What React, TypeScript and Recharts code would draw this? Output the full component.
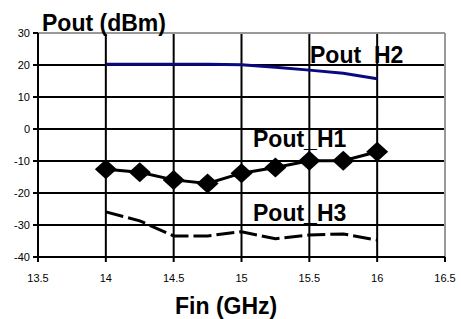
import { LineChart, Line, XAxis, YAxis, CartesianGrid, ReferenceLine } from "recharts";

const freq = [14, 14.25, 14.5, 14.75, 15, 15.25, 15.5, 15.75, 16];
const poutH1 = [-12.6, -13.5, -15.9, -17, -13.8, -12, -9.9, -9.9, -7.1];
const poutH2 = [20.2, 20.2, 20.2, 20.2, 20.1, 19.3, 18.4, 17.4, 15.7];
const poutH3 = [-25.9, -28.7, -33.4, -33.4, -32.1, -34.3, -33.1, -32.8, -34.7];
const xTicks = [13.5, 14, 14.5, 15, 15.5, 16, 16.5];
const yTicks = [-40, -30, -20, -10, 0, 10, 20, 30];

const data = freq.map((f, i) => ({ f, h1: poutH1[i], h2: poutH2[i], h3: poutH3[i] }));

const Diamond = (props: any) => {
  const { cx, cy } = props;
  if (cx == null || cy == null) return null;
  return <polygon points={`${cx},${cy - 10} ${cx + 11},${cy} ${cx},${cy + 10} ${cx - 11},${cy}`} fill="#000" />;
};

const tickStyle = { fontSize: 11, fill: "#000", fontFamily: "Liberation Sans, Arial, sans-serif" };
const labelFont = { fontFamily: "Liberation Sans, Arial, sans-serif", fontWeight: 700, fontSize: 23, fill: "#000" };

export default function App() {
  return (
    <div style={{ position: "absolute", left: 0, top: 0, width: 461, height: 319, background: "#fff" }}>
      <LineChart width={461} height={319} data={data} margin={{ top: 33, right: 16, bottom: 0, left: 0 }}>
        <CartesianGrid stroke="#000" strokeWidth={2} />
        <XAxis
          dataKey="f"
          type="number"
          domain={[13.5, 16.5]}
          ticks={xTicks}
          height={62}
          tick={tickStyle}
          tickSize={5}
          tickMargin={12}
          stroke="#000"
          strokeWidth={2}
        />
        <YAxis
          domain={[-40, 30]}
          ticks={yTicks}
          width={38}
          tick={tickStyle}
          tickSize={5}
          tickMargin={3}
          stroke="#000"
          strokeWidth={2}
        />
        <ReferenceLine x={16.5} stroke="#999" strokeWidth={2} />
        <ReferenceLine y={30} stroke="#999" strokeWidth={2} />
        <Line dataKey="h2" stroke="#0a0a80" strokeWidth={3} dot={false} isAnimationActive={false} />
        <Line dataKey="h1" stroke="#000" strokeWidth={3} dot={<Diamond />} isAnimationActive={false} />
        <Line dataKey="h3" stroke="#000" strokeWidth={3} strokeDasharray="18 5" dot={false} isAnimationActive={false} />
      </LineChart>
      <svg width={461} height={319} style={{ position: "absolute", left: 0, top: 0, pointerEvents: "none" }}>
        <text x={42} y={31} {...labelFont}>Pout (dBm)</text>
        <text x={310} y={63} {...labelFont}>Pout_H2</text>
        <text x={253} y={147} {...labelFont}>Pout_H1</text>
        <text x={253} y={221} {...labelFont}>Pout_H3</text>
        <text x={175} y={314} {...labelFont}>Fin (GHz)</text>
      </svg>
    </div>
  );
}
